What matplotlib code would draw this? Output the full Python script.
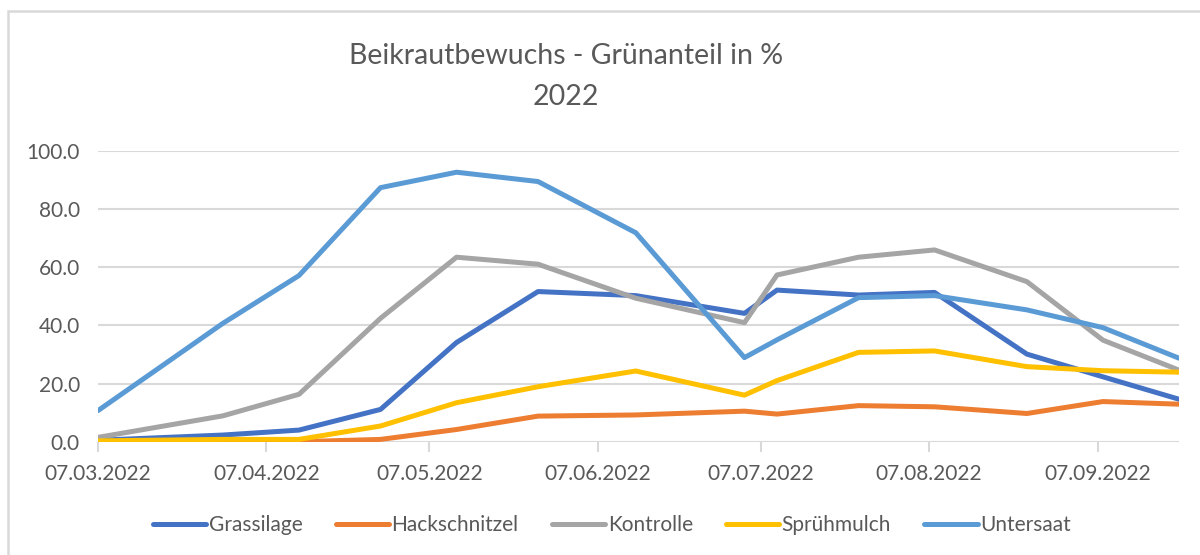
import matplotlib
matplotlib.use("Agg")
import matplotlib.pyplot as plt
import matplotlib.dates as mdates
import numpy as np
import pandas as pd
from matplotlib.patches import Rectangle

plt.rcParams["font.family"] = ["Lato", "DejaVu Sans"]

dates = pd.to_datetime([
    "2022-03-07", "2022-03-30", "2022-04-13", "2022-04-28", "2022-05-12",
    "2022-05-27", "2022-06-14", "2022-07-04", "2022-07-10", "2022-07-25",
    "2022-08-08", "2022-08-25", "2022-09-08", "2022-09-22",
])

grassilage    = [0.5, 2.3, 4.0, 11.1, 34.1, 51.6, 50.2, 44.1, 52.1, 50.4, 51.3, 30.1, 22.3, 14.6]
hackschnitzel = [0.0, 0.0, 0.0, 0.8, 4.2, 8.8, 9.2, 10.5, 9.5, 12.4, 12.0, 9.7, 13.8, 12.9]
kontrolle     = [1.5, 8.9, 16.3, 42.4, 63.4, 61.0, 49.3, 40.9, 57.3, 63.4, 65.9, 55.0, 34.9, 24.6]
spruehmulch   = [0.3, 0.8, 0.8, 5.4, 13.4, 18.9, 24.3, 16.0, 21.0, 30.7, 31.2, 25.8, 24.4, 23.9]
untersaat     = [10.7, 40.7, 57.1, 87.3, 92.6, 89.4, 71.8, 28.9, 35.0, 49.5, 50.2, 45.3, 39.2, 28.7]

series_names = ["Grassilage", "Hackschnitzel", "Kontrolle", "Sprühmulch", "Untersaat"]
series_values = [grassilage, hackschnitzel, kontrolle, spruehmulch, untersaat]
series_colors = ["#4472C4", "#ED7D31", "#A5A5A5", "#FFC000", "#5B9BD5"]

tick_dates = pd.to_datetime([
    "2022-03-07", "2022-04-07", "2022-05-07", "2022-06-07",
    "2022-07-07", "2022-08-07", "2022-09-07",
])
y_ticks = [0, 20, 40, 60, 80, 100]

title_text = "Beikrautbewuchs - Grünanteil in %\n2022"

text_color = "#595959"
grid_color = "#D9D9D9"

fig = plt.figure(figsize=(12, 5.55), dpi=100)
ax = fig.add_axes([0.0817, 0.2041, 0.9008, 0.5244])

for name, vals, col in zip(series_names, series_values, series_colors):
    ax.plot(dates, vals, color=col, lw=3.6, label=name,
            solid_joinstyle="round", solid_capstyle="round")

ax.set_xlim(dates[0], dates[-1])
ax.set_ylim(0, 100)
ax.set_yticks(y_ticks)
ax.yaxis.set_major_formatter(matplotlib.ticker.FormatStrFormatter("%.1f"))
ax.set_xticks(tick_dates)
ax.xaxis.set_major_formatter(mdates.DateFormatter("%d.%m.%Y"))

ax.grid(axis="y", color=grid_color, lw=1.5)
ax.set_axisbelow(True)
for s in ax.spines.values():
    s.set_visible(False)

ax.tick_params(axis="y", length=0, pad=13, labelsize=15, labelcolor=text_color)
ax.tick_params(axis="x", length=7, width=1.5, color=grid_color, pad=9,
               labelsize=15, labelcolor=text_color)

fig.text(0.4717, 0.862, title_text, ha="center", va="center",
         fontsize=20.5, color=text_color, linespacing=1.75)

leg = fig.legend(loc="center", bbox_to_anchor=(0.51, 0.054), ncol=5,
                 frameon=False, fontsize=15, handlelength=2.55,
                 handletextpad=0.12, columnspacing=1.6, labelcolor=text_color)
for h in leg.get_lines():
    h.set_linewidth(3.6)

# chart frame
fig.patches.append(Rectangle((8 / 1200, -0.05), 1.2, 1 - 11 / 555 + 0.05,
                             transform=fig.transFigure, fill=False,
                             edgecolor=grid_color, lw=1.8))

fig.savefig("out.png", dpi=100, facecolor="white")
